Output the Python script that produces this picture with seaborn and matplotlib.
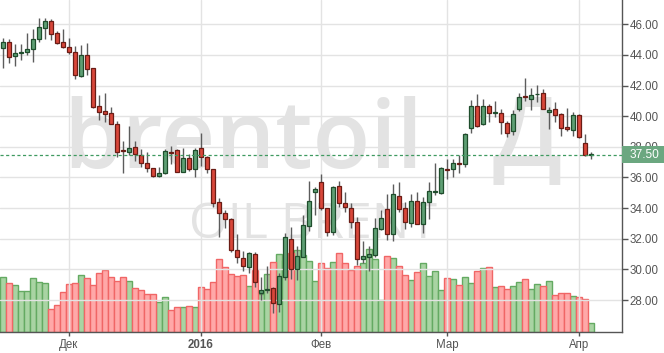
import numpy as np
import pandas as pd
import matplotlib
matplotlib.use("Agg")
import matplotlib.pyplot as plt
import matplotlib.transforms as mtrans
from matplotlib.patches import Rectangle
import seaborn as sns

# ---- data (Brent daily, 16 Nov 2015 .. 5 Apr 2016, trading-day index) ----
opens = [44.48, 44.83, 43.95, 44.15, 44.17, 44.37, 45.06, 45.78, 46.20, 45.41,
         44.83, 44.50, 44.17, 42.63, 43.98, 43.13, 40.65, 40.32, 40.19, 39.47,
         37.77, 37.69, 37.97, 37.45, 36.92, 36.60, 36.12, 36.32, 37.69, 37.77,
         36.38, 37.25, 36.58, 37.90, 37.32, 36.53, 34.38, 33.66, 33.29, 31.24,
         30.72, 30.18, 30.98, 28.44, 28.65, 28.76, 27.72, 29.53, 31.96, 30.00,
         30.83, 32.86, 35.05, 35.73, 33.99, 32.42, 35.42, 34.34, 33.99, 33.07,
         30.70, 30.79, 30.94, 32.62, 33.92, 32.29, 34.81, 33.99, 33.01, 34.49,
         32.94, 34.38, 35.08, 35.01, 36.58, 36.55, 36.96, 36.90, 39.25, 40.69,
         39.47, 40.69, 40.22, 40.19, 39.54, 39.06, 40.45, 41.30, 41.15, 41.43,
         41.50, 40.25, 40.45, 40.12, 39.30, 39.12, 40.06, 38.23, 37.47]
highs = [45.13, 45.04, 44.69, 44.69, 45.43, 45.70, 46.41, 46.41, 46.37, 45.56,
         45.70, 45.13, 44.56, 44.67, 44.78, 43.13, 41.39, 41.52, 40.60, 39.69,
         38.38, 39.36, 38.38, 37.84, 37.67, 36.60, 36.71, 37.86, 38.08, 37.86,
         37.95, 37.53, 37.95, 38.91, 37.41, 36.53, 34.64, 33.88, 33.33, 32.31,
         31.22, 31.11, 31.11, 29.53, 30.22, 28.87, 29.79, 32.40, 32.75, 31.53,
         33.55, 35.77, 35.40, 36.23, 33.99, 35.45, 35.77, 35.03, 34.31, 33.44,
         31.85, 31.53, 33.33, 33.88, 34.90, 35.55, 35.68, 34.42, 34.90, 35.03,
         34.75, 35.71, 36.92, 36.71, 37.19, 37.23, 37.47, 38.88, 41.06, 41.43,
         41.10, 40.80, 40.99, 40.45, 39.69, 40.41, 41.50, 42.47, 41.82, 42.04,
         41.76, 40.58, 40.93, 40.19, 40.54, 40.28, 40.12, 38.84, 37.67]
lows = [43.13, 43.50, 43.30, 43.67, 44.00, 43.56, 44.87, 45.04, 45.00, 44.69,
        44.43, 44.04, 42.41, 42.56, 42.71, 40.56, 39.78, 39.60, 39.47, 37.32,
        36.32, 37.47, 37.08, 36.71, 36.38, 36.01, 36.01, 36.23, 36.88, 36.38,
        36.36, 36.42, 36.05, 36.77, 36.27, 34.10, 32.14, 32.68, 31.16, 30.40,
        29.92, 29.74, 28.83, 28.00, 28.48, 27.13, 27.24, 29.31, 29.35, 29.31,
        30.83, 32.53, 33.55, 33.88, 32.18, 32.25, 34.10, 33.75, 32.72, 30.29,
        30.40, 29.92, 30.83, 32.57, 31.92, 31.85, 33.73, 32.64, 32.79, 32.94,
        32.35, 33.27, 34.86, 34.92, 35.90, 36.05, 36.32, 36.71, 38.88, 39.32,
        39.43, 39.65, 39.97, 38.82, 38.67, 38.77, 40.34, 41.02, 40.41, 40.95,
        40.45, 39.17, 39.65, 38.71, 39.04, 38.71, 38.56, 37.43, 37.23]
closes = [44.83, 43.89, 44.13, 44.19, 44.37, 45.02, 45.80, 46.20, 45.35, 44.80,
          44.50, 44.17, 42.67, 43.98, 43.11, 40.62, 40.30, 40.17, 39.47, 37.64,
          37.73, 37.90, 37.51, 36.92, 36.60, 36.12, 36.27, 37.71, 37.63, 36.38,
          37.25, 36.58, 37.77, 37.32, 36.53, 34.31, 33.66, 33.27, 31.24, 30.79,
          30.22, 31.05, 29.20, 28.65, 28.69, 27.78, 29.57, 32.09, 30.00, 30.87,
          32.88, 34.44, 35.25, 33.99, 32.42, 35.36, 34.31, 34.05, 33.07, 30.68,
          30.87, 31.01, 32.72, 33.33, 32.29, 34.90, 33.97, 33.07, 34.49, 32.94,
          34.38, 35.10, 35.12, 36.60, 36.52, 36.97, 36.92, 38.82, 40.69, 39.38,
          40.69, 40.19, 40.26, 39.65, 38.88, 40.12, 41.28, 41.26, 41.36, 41.47,
          40.45, 40.39, 40.08, 39.25, 39.14, 40.06, 38.62, 37.47, 37.50]
volumes = [164, 145, 139, 121, 121, 160, 148, 145, 67, 79, 118, 142, 145, 169, 160, 139, 175,
           184, 163, 151, 163, 151, 130, 124, 112, 112, 88, 103, 64, 73, 73, 76, 73, 133,
           127, 148, 217, 193, 172, 166, 169, 136, 184, 112, 172, 208, 232, 214, 235, 244,
           230, 211, 151, 205, 190, 208, 235, 205, 184, 196, 205, 247, 217, 94, 226, 220, 196,
           169, 154, 178, 205, 166, 181, 124, 160, 157, 139, 163, 145, 181, 190, 193, 133, 136,
           127, 136, 148, 157, 127, 142, 136, 151, 109, 115, 115, 106, 103, 97, 25]
month_ticks = [11, 33, 53, 74, 96]
month_labels = ["Дек", "2016", "Фев", "Мар", "Апр"]
price_ticks = [28, 30, 32, 34, 36, 38, 40, 42, 44, 46]
last_price = 37.50
watermark_main = "brentoil"
watermark_tf = "Д"
watermark_sub = "OIL BRENT"

# ---- style ----
sns.set_theme(style="white")
plt.rcParams["font.family"] = ["Liberation Sans", "DejaVu Sans"]

o = np.array(opens); h = np.array(highs); l = np.array(lows); c = np.array(closes)
idx = np.arange(len(o))
up = c >= o

W, H = 664, 353
fig = plt.figure(figsize=(W / 100, H / 100), dpi=100)
fig.patch.set_facecolor("white")
axp = fig.add_axes([0, 21.3 / H, 622 / W, 331.7 / H])
axv = axp.twinx()
axv.set_zorder(axp.get_zorder() - 1)
axp.patch.set_visible(False)
axv.patch.set_visible(False)

# ---- watermark (bottom layer) ----
wm_col = "#e3e3e3"
wm_fam = ["Open Sans", "DejaVu Sans"]
axv.text(243 / W, (H - 168) / H, watermark_main, transform=fig.transFigure, ha="center",
         va="baseline", fontsize=68, fontweight="semibold", color=wm_col, family=wm_fam, zorder=0)
axv.text(527 / W, (H - 166) / H, watermark_tf, transform=fig.transFigure, ha="center",
         va="baseline", fontsize=69, fontweight="semibold", color=wm_col, family=wm_fam, zorder=0)
axv.text(313 / W, (H - 238) / H, watermark_sub, transform=fig.transFigure, ha="center",
         va="baseline", fontsize=36, color=wm_col, family=wm_fam, zorder=0)

# ---- volume (seaborn) ----
vol_df = pd.DataFrame({"idx": idx, "vol": volumes, "dir": np.where(up, "up", "down")})
pal = {"up": "#a9d4a3", "down": "#ffa8a8"}
edges = {"up": "#64aa62", "down": "#f06666"}
sns.barplot(data=vol_df, x="idx", y="vol", hue="dir", hue_order=["up", "down"], palette=pal,
            native_scale=True, width=1.0, errorbar=None, legend=False, saturation=1,
            linewidth=1.0, ax=axv, zorder=1)
up_rgba = matplotlib.colors.to_rgba(pal["up"])
for p in axv.patches:
    fc = p.get_facecolor()
    same = np.allclose(fc[:3], up_rgba[:3], atol=0.01)
    p.set_edgecolor(edges["up"] if same else edges["down"])
axv.set_ylim(0, 995)
axv.yaxis.set_visible(False)
for s in axv.spines.values():
    s.set_visible(False)
axv.set_xlabel("")
axv.set_ylabel("")

# ---- candles ----
body_h = np.maximum(np.abs(c - o), 0.06)
body_b = (o + c) / 2 - body_h / 2
axp.vlines(idx, l, h, color="#5c5c5c", lw=1.0, zorder=2)
axp.bar(idx[up], body_h[up], bottom=body_b[up], width=0.68, color="#5e9f74",
        edgecolor="#1f4d2c", linewidth=0.9, zorder=3)
axp.bar(idx[~up], body_h[~up], bottom=body_b[~up], width=0.68, color="#d8473a",
        edgecolor="#6a1c15", linewidth=0.9, zorder=3)

axp.axhline(last_price, color="#3f9a60", lw=0.9, ls=(0, (2.5, 2)), zorder=4)

# ---- axes ----
axp.set_xlim(-0.5, 103.17)
axp.set_ylim(25.93, 47.59)
axp.set_xticks(month_ticks)
axp.set_xticklabels(month_labels)
for t in axp.get_xticklabels():
    if t.get_text() == "2016":
        t.set_fontweight("bold")
axp.set_yticks(price_ticks)
axp.set_yticklabels([f"{v:.2f}" for v in price_ticks])
axp.yaxis.tick_right()
axp.tick_params(axis="y", which="both", direction="out", length=4, width=1, color="#555555",
                labelcolor="#555555", labelsize=8.3, pad=1.5, right=True, left=False)
axp.tick_params(axis="x", direction="out", length=3, width=1, color="#555555",
                labelcolor="#555555", labelsize=8.3, pad=2, bottom=True)
axp.grid(True, color="#e3e3e3", lw=1.0)
axp.set_axisbelow(True)
for side in ["left", "top"]:
    axp.spines[side].set_visible(False)
for side in ["right", "bottom"]:
    axp.spines[side].set_visible(True)
    axp.spines[side].set_color("#555555")
    axp.spines[side].set_linewidth(1.0)

# ---- last price label ----
tr = mtrans.blended_transform_factory(axp.transAxes, axp.transData)
axp.add_patch(Rectangle((1.0, last_price - 0.53), (W - 622) / 622, 1.06, transform=tr,
                        facecolor="#6ba780", edgecolor="none", clip_on=False, zorder=10))
axp.text((622 + (W - 622) / 2 + 1) / 622, last_price, f"{last_price:.2f}", transform=tr,
         ha="center", va="center", color="white", fontsize=8.6, zorder=11, clip_on=False)

fig.savefig("out.png", dpi=100)
